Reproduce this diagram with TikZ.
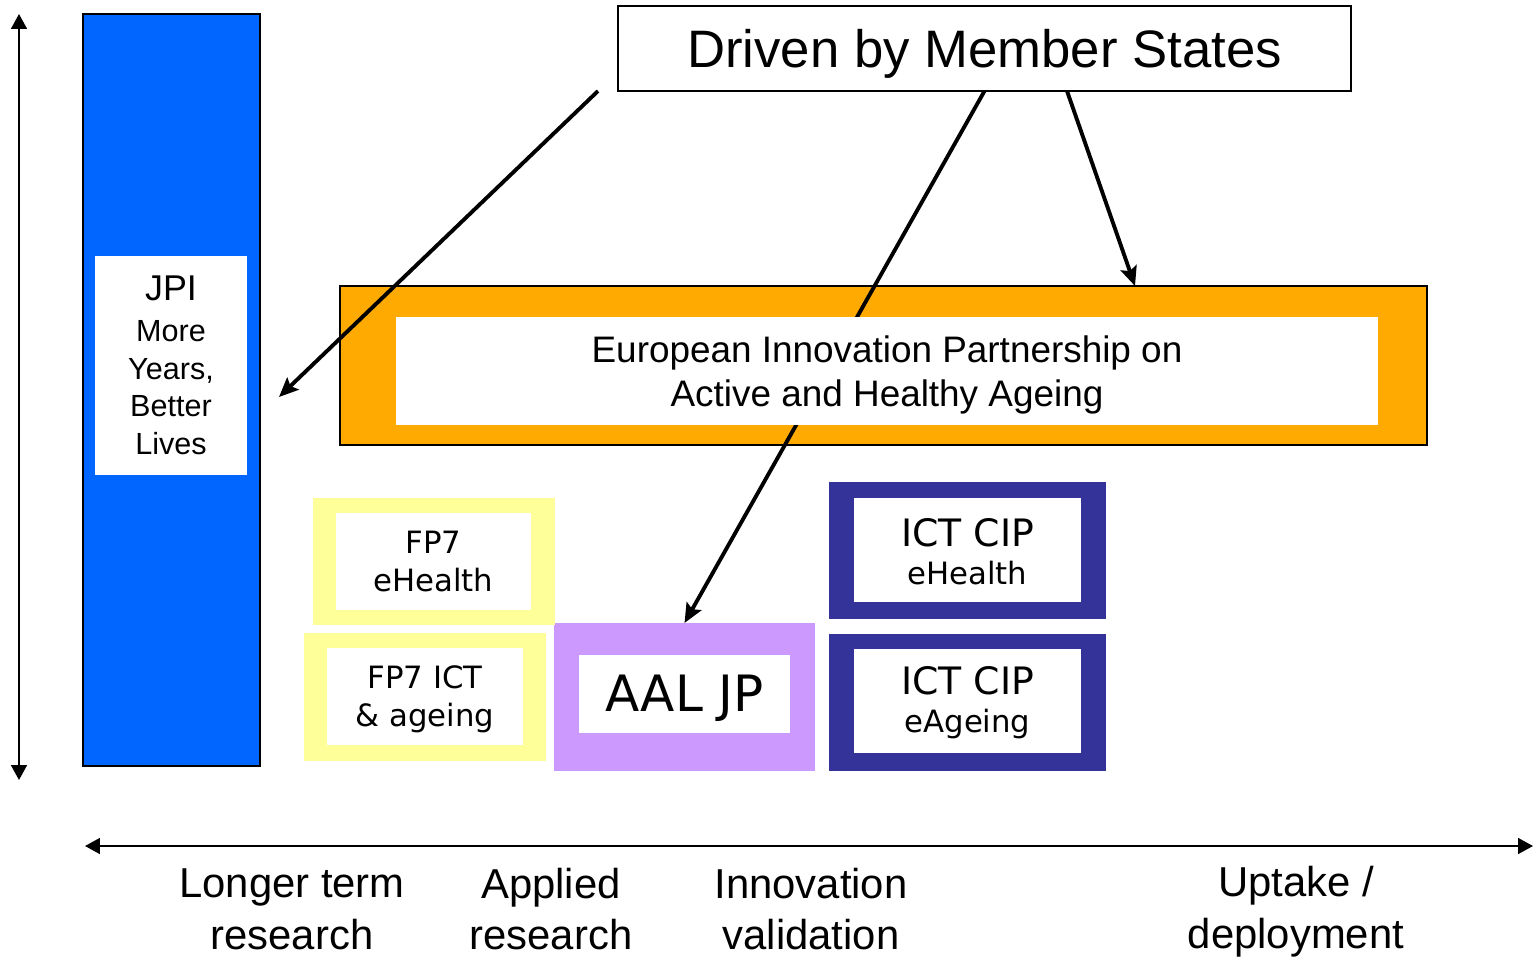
\documentclass[tikz,border=0pt]{standalone}
\usepackage{fontspec}
\setmainfont{Liberation Sans}
\newfontfamily\verd{DejaVu Sans}
\usetikzlibrary{arrows.meta,fit}
\definecolor{barblue}{RGB}{0,102,255}
\definecolor{eiporange}{RGB}{255,170,0}
\definecolor{fpyellow}{RGB}{255,255,153}
\definecolor{aalpurple}{RGB}{204,153,255}
\definecolor{cipnavy}{RGB}{51,51,153}
\begin{document}
\begin{tikzpicture}[x=0.02cm,y=-0.02cm,
  box/.style={inner sep=0pt, outer sep=0pt},
  framed/.style={box, draw=black, line width=1pt},
  inner/.style={box, fill=white},
  txt/.style={inner sep=0pt, align=center},
  axis/.style={line width=1.2pt, {Triangle[length=8.5pt,width=9pt]}-{Triangle[length=8.5pt,width=9pt]}},
  link/.style={line width=2.2pt, -{Stealth[length=11pt,width=9.5pt,inset=2pt]}},
  vsmall/.style={font=\verd\fontsize{17.5pt}{21.5pt}\selectfont},
  lbl/.style={align=center, font=\fontsize{23.8pt}{29.5pt}\selectfont}]
\useasboundingbox (0,0) rectangle (1533,957);

% axes
\coordinate (vt) at (19,14);
\coordinate (vb) at (19,780);
\draw[axis] (vt) -- (vb);
\coordinate (hl) at (85,846);
\coordinate (hr) at (1533,846);
\draw[axis] (hl) -- (hr);

% JPI bar
\node[framed, fill=barblue, fit={(83,14)(260,766)}] (bar) {};
\node[inner, fit={(95,256)(247,475)}] (jpi) {};
\node[txt, font=\fontsize{17.4pt}{21.5pt}\selectfont] (jpit) at (jpi)
  {{\fontsize{20.4pt}{21.5pt}\selectfont JPI}\\[1.5pt]More\\Years,\\Better\\Lives};

% top box
\node[framed, fill=white, fit={(618,6)(1351,91)}] (driven) {};
\node[txt, font=\fontsize{30pt}{36pt}\selectfont, yshift=-2.8pt] (drivent) at (driven) {Driven by Member States};

% AAL outer
\node[box, fill=aalpurple, fit={(554,623)(815,771)}] (aal) {};

% EIP
\node[framed, fill=eiporange, fit={(340,286)(1427,445)}] (eip) {};
\draw[link] (driven.south) -- (aal.north);
\node[inner, fit={(396,317)(1378,425)}] (eipin) {};
\node[txt, font=\fontsize{21pt}{25.5pt}\selectfont, yshift=-2.3pt] (eipt) at (eipin)
  {European Innovation Partnership on\\Active and Healthy Ageing};

% FP7 boxes
\node[box, fill=fpyellow, fit={(313,498)(555,625)}] (fp1) {};
\node[inner, fit={(336,513)(531,610)}] (fp1in) {};
\node[txt, vsmall] (fp1t) at (fp1in) {FP7\\eHealth};
\node[box, fill=fpyellow, fit={(304,633)(546,761)}] (fp2) {};
\node[inner, fit={(327,648)(523,745)}] (fp2in) {};
\node[txt, vsmall, yshift=-1.5pt] (fp2t) at (fp2in) {FP7 ICT\\\& ageing};

% AAL inner
\node[inner, fit={(579,655)(790,733)}] (aalin) {};
\node[txt, font=\verd\fontsize{28.5pt}{32pt}\selectfont, yshift=-2.5pt] (aalt) at (aalin) {AAL JP};

% CIP
\node[box, fill=cipnavy, fit={(829,482)(1106,619)}] (cip1) {};
\node[inner, fit={(854,498)(1081,602)}] (cip1in) {};
\node[txt, vsmall, yshift=-1pt] (cip1t) at (cip1in) {{\fontsize{21.5pt}{21.5pt}\selectfont ICT CIP}\\eHealth};
\node[box, fill=cipnavy, fit={(829,634)(1106,771)}] (cip2) {};
\node[inner, fit={(854,649)(1081,753)}] (cip2in) {};
\node[txt, vsmall, yshift=-1pt] (cip2t) at (cip2in) {{\fontsize{21.5pt}{21.5pt}\selectfont ICT CIP}\\eAgeing};

% other arrows
\coordinate (a1s) at (598,91);
\coordinate (a1e) at (279,397);
\draw[link] (a1s) -- (a1e);
\coordinate (a3s) at (1067,91);
\coordinate (a3e) at (1135,286);
\draw[link] (a3s) -- (a3e);

% bottom labels
\node[lbl] (l1) at (292,909) {Longer term\\research};
\node[lbl] (l2) at (551,909) {Applied\\research};
\node[lbl] (l3) at (811,909) {Innovation\\validation};
\node[lbl] (l4) at (1296,912) {Uptake /\\deployment};
\end{tikzpicture}
\end{document}
